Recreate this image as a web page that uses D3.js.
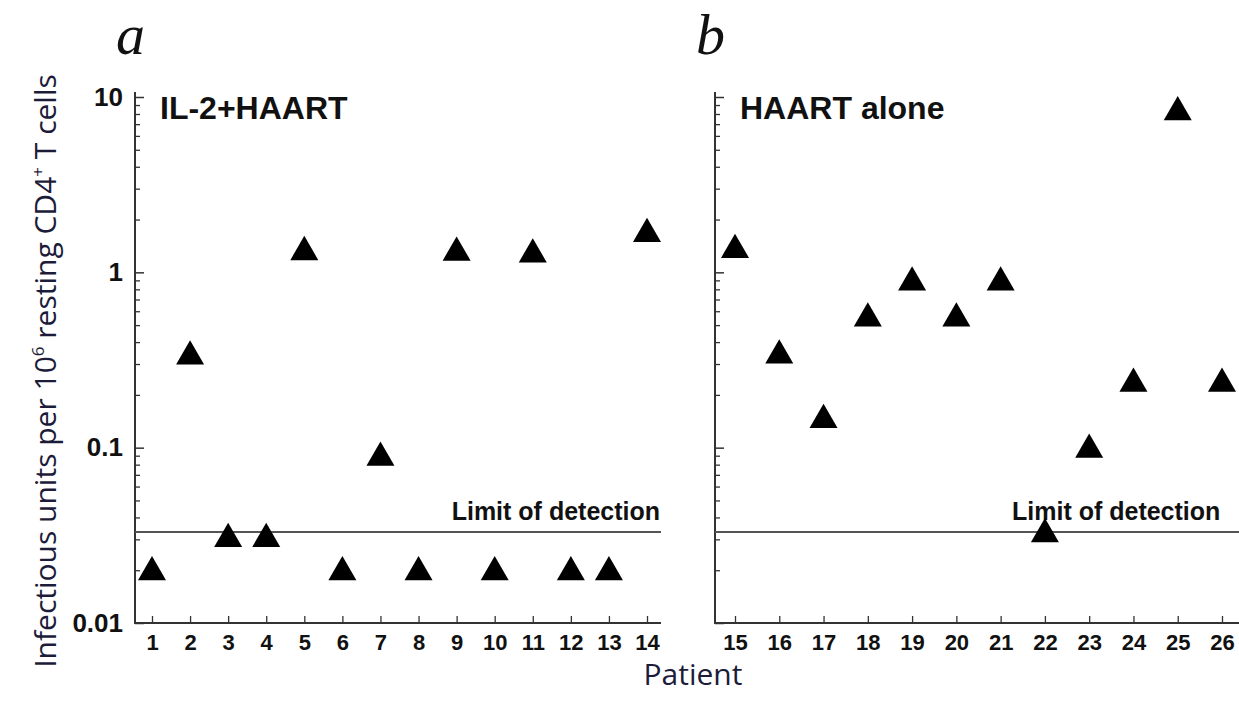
<!DOCTYPE html>
<html>
<head>
<meta charset="utf-8">
<script src="https://cdn.jsdelivr.net/npm/d3@7"></script>
<style>
  body { margin: 0; background: #fff; }
  svg { display: block; }
  .tick text { font-family: "Liberation Sans", Arial, sans-serif; font-weight: bold; fill: #111; }
</style>
</head>
<body>
<svg width="1239" height="713"></svg>
<script>
// patients and values
var patientsA = [1, 2, 3, 4, 5, 6, 7, 8, 9, 10, 11, 12, 13, 14];
var valuesA = [0.02, 0.34, 0.031, 0.031, 1.34, 0.02, 0.09, 0.02, 1.33, 0.02, 1.3, 0.02, 0.02, 1.7];
var patientsB = [15, 16, 17, 18, 19, 20, 21, 22, 23, 24, 25, 26];
var valuesB = [1.38, 0.345, 0.148, 0.56, 0.9, 0.56, 0.9, 0.033, 0.1, 0.238, 8.4, 0.238];
var yTickValues = [0.01, 0.1, 1, 10];
var yTickLabels = ["0.01", "0.1", "1", "10"];
var limitOfDetection = 0.033;

var svg = d3.select("svg");
var font = '"Liberation Sans", Arial, sans-serif';

var y = d3.scaleLog().domain([0.01, 10]).range([623, 97]);

var minorTicks = [];
[0.01, 0.1, 1].forEach(function (d) {
    for (var k = 2; k <= 9; k++) minorTicks.push(d * k);
});

function panel(opts) {
    var x = d3.scaleLinear().domain(opts.domain).range(opts.range);
    var g = svg.append("g");

    // axis lines
    g.append("path")
        .attr("d", "M" + opts.axisX + "," + 92 + "V" + y(0.01) + "H" + opts.axisEnd)
        .attr("fill", "none")
        .attr("stroke", "#333")
        .attr("stroke-width", 2);

    // y ticks, pointing inward
    g.append("g")
        .attr("transform", "translate(" + opts.axisX + ",0)")
        .call(d3.axisRight(y).tickValues(yTickValues).tickSize(9).tickFormat(""))
        .call(function (a) { a.select(".domain").remove(); })
        .selectAll("line").attr("stroke", "#333").attr("stroke-width", 1.5);
    g.append("g")
        .attr("transform", "translate(" + opts.axisX + ",0)")
        .call(d3.axisRight(y).tickValues(minorTicks).tickSize(5).tickFormat(""))
        .call(function (a) { a.select(".domain").remove(); })
        .selectAll("line").attr("stroke", "#333").attr("stroke-width", 1.3);

    if (opts.labels) {
        g.append("g")
            .attr("transform", "translate(" + opts.axisX + ",0)")
            .call(d3.axisLeft(y).tickValues(yTickValues).tickSize(0).tickPadding(12)
                .tickFormat(function (d, i) { return yTickLabels[i]; }))
            .call(function (a) { a.select(".domain").remove(); })
            .selectAll("text").style("font-size", "26px");
    }

    // x ticks, pointing up
    g.append("g")
        .attr("transform", "translate(0," + y(0.01) + ")")
        .call(d3.axisTop(x).tickValues(opts.patients).tickSize(7).tickFormat(""))
        .call(function (a) { a.select(".domain").remove(); })
        .selectAll("line").attr("stroke", "#333").attr("stroke-width", 1.3);
    g.append("g")
        .attr("transform", "translate(0," + y(0.01) + ")")
        .call(d3.axisBottom(x).tickValues(opts.patients).tickSize(0).tickPadding(11).tickFormat(d3.format("d")))
        .call(function (a) { a.select(".domain").remove(); })
        .selectAll("text").style("font-size", "22px");

    // limit of detection
    g.append("line")
        .attr("x1", opts.axisX).attr("x2", opts.axisEnd)
        .attr("y1", y(limitOfDetection)).attr("y2", y(limitOfDetection))
        .attr("stroke", "#555").attr("stroke-width", 2);
    g.append("text")
        .attr("x", opts.lodX).attr("y", y(limitOfDetection) - 12)
        .attr("text-anchor", opts.lodAnchor)
        .style("font-family", font).style("font-weight", "bold").style("font-size", "25px")
        .attr("fill", "#111")
        .text("Limit of detection");

    // markers
    g.selectAll(".pt")
        .data(opts.patients.map(function (p, i) { return [p, opts.values[i]]; }))
        .enter().append("path")
        .attr("class", "pt")
        .attr("d", d3.symbol().type(d3.symbolTriangle).size(340))
        .attr("transform", function (d) { return "translate(" + x(d[0]) + "," + (y(d[1]) + 2) + ")"; })
        .attr("fill", "#000");

    // title and panel letter
    g.append("text")
        .attr("x", opts.axisX + 25).attr("y", 119)
        .style("font-family", font).style("font-weight", "bold").style("font-size", "32px")
        .attr("fill", "#111")
        .text(opts.title);
    g.append("text")
        .attr("x", opts.axisX - 19).attr("y", 54)
        .style("font-family", '"Liberation Serif", "Times New Roman", serif')
        .style("font-style", "italic").style("font-size", "58px")
        .attr("fill", "#111")
        .text(opts.letter);
}

panel({
    patients: patientsA, values: valuesA,
    domain: [1, 14], range: [152, 647],
    axisX: 135, axisEnd: 661,
    labels: true, title: "IL-2+HAART", letter: "a",
    lodX: 660, lodAnchor: "end"
});

panel({
    patients: patientsB, values: valuesB,
    domain: [15, 26], range: [735, 1222],
    axisX: 715, axisEnd: 1239,
    labels: false, title: "HAART alone", letter: "b",
    lodX: 1012, lodAnchor: "start"
});

// axis titles
var yl = svg.append("text")
    .attr("transform", "translate(56,371) rotate(-90)")
    .attr("text-anchor", "middle")
    .style("font-family", '"Open Sans", "Noto Sans", sans-serif')
    .style("font-size", "30px")
    .attr("fill", "#1c1c3a");
yl.append("tspan").text("Infectious units per 10");
yl.append("tspan").attr("dy", -12).style("font-size", "17px").text("6");
yl.append("tspan").attr("dy", 12).text(" resting CD4");
yl.append("tspan").attr("dy", -12).style("font-size", "17px").text("+");
yl.append("tspan").attr("dy", 12).text(" T cells");

svg.append("text")
    .attr("x", 693).attr("y", 685)
    .attr("text-anchor", "middle")
    .style("font-family", '"Open Sans", "Noto Sans", sans-serif')
    .style("font-size", "30px")
    .attr("fill", "#1c1c3a")
    .text("Patient");
</script>
</body>
</html>
